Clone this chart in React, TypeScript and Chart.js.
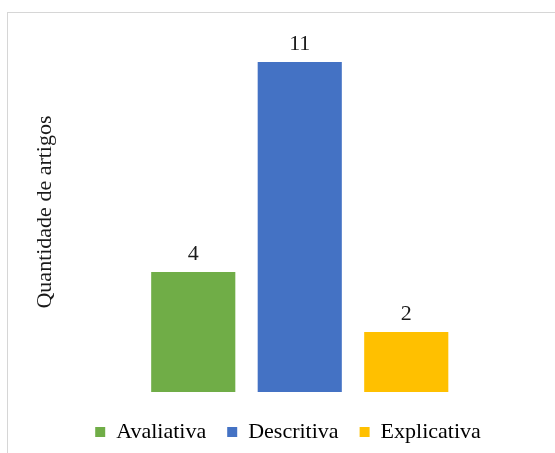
import React, { useEffect, useRef } from "react";
import { Chart, registerables } from "chart.js";

Chart.register(...registerables);

const categories = ["Avaliativa", "Descritiva", "Explicativa"];
const values = [4, 11, 2];
const colors = ["#70AD47", "#4472C4", "#FFC000"];
const axisTitle = "Quantidade de artigos";

const FONT = "'Liberation Serif', 'Times New Roman', serif";

const valueLabels = {
  id: "valueLabels",
  afterDatasetsDraw(chart: any) {
    const ctx = chart.ctx;
    const meta = chart.getDatasetMeta(0);
    ctx.save();
    ctx.font = `22px ${FONT}`;
    ctx.fillStyle = "#1a1a1a";
    ctx.textAlign = "center";
    ctx.textBaseline = "alphabetic";
    meta.data.forEach((bar: any, i: number) => {
      const v = chart.data.datasets[0].data[i];
      ctx.fillText(String(v), bar.x, bar.y - 12);
    });
    ctx.restore();
  },
};

export default function App() {
  const ref = useRef<HTMLCanvasElement>(null);
  useEffect(() => {
    if (!ref.current) return;
    const chart = new Chart(ref.current, {
      type: "bar",
      data: {
        labels: categories,
        datasets: [
          {
            data: values,
            backgroundColor: colors,
            borderWidth: 0,
            categoryPercentage: 1,
            barPercentage: 0.79,
          },
        ],
      },
      options: {
        responsive: false,
        animation: false,
        layout: { padding: { left: 21, right: 0, top: 32, bottom: 0 } },
        plugins: {
          tooltip: { enabled: false },
          legend: {
            position: "bottom",
            labels: {
              boxWidth: 10,
              boxHeight: 10,
              padding: 21,
              color: "#1a1a1a",
              font: { family: FONT, size: 22 },
              generateLabels: (c: any) =>
                c.data.labels.map((l: string, i: number) => ({
                  text: l,
                  fillStyle: colors[i],
                  strokeStyle: colors[i],
                  lineWidth: 0,
                  hidden: false,
                  index: i,
                })),
            },
          },
        },
        scales: {
          x: {
            display: true,
            ticks: { display: false },
            grid: { display: false },
            border: { display: false },
            afterFit: (s: any) => {
              s.height = 8;
            },
          },
          y: {
            min: 0,
            max: 12,
            ticks: { display: false },
            grid: { display: false },
            border: { display: false },
            title: {
              display: true,
              text: axisTitle,
              color: "#1a1a1a",
              padding: { top: 11, bottom: 4 },
              font: { family: FONT, size: 22 },
            },
            afterFit: (s: any) => {
              s.width = 119;
            },
          },
          y2: {
            position: "right",
            display: true,
            ticks: { display: false },
            grid: { display: false },
            border: { display: false },
            afterFit: (s: any) => {
              s.width = 95.5;
            },
          },
        },
      },
      plugins: [valueLabels],
    });
    return () => chart.destroy();
  }, []);

  return (
    <div
      style={{
        position: "fixed",
        left: 0,
        top: 0,
        width: 555,
        height: 453,
        background: "#fff",
        overflow: "hidden",
      }}
    >
      <div
        style={{
          position: "absolute",
          left: 7,
          top: 12,
          width: 600,
          height: 500,
          border: "1px solid #d6d6d6",
        }}
      />
      <canvas
        ref={ref}
        width={555}
        height={453}
        style={{ position: "absolute", left: 0, top: 0, width: 555, height: 453 }}
      />
    </div>
  );
}
